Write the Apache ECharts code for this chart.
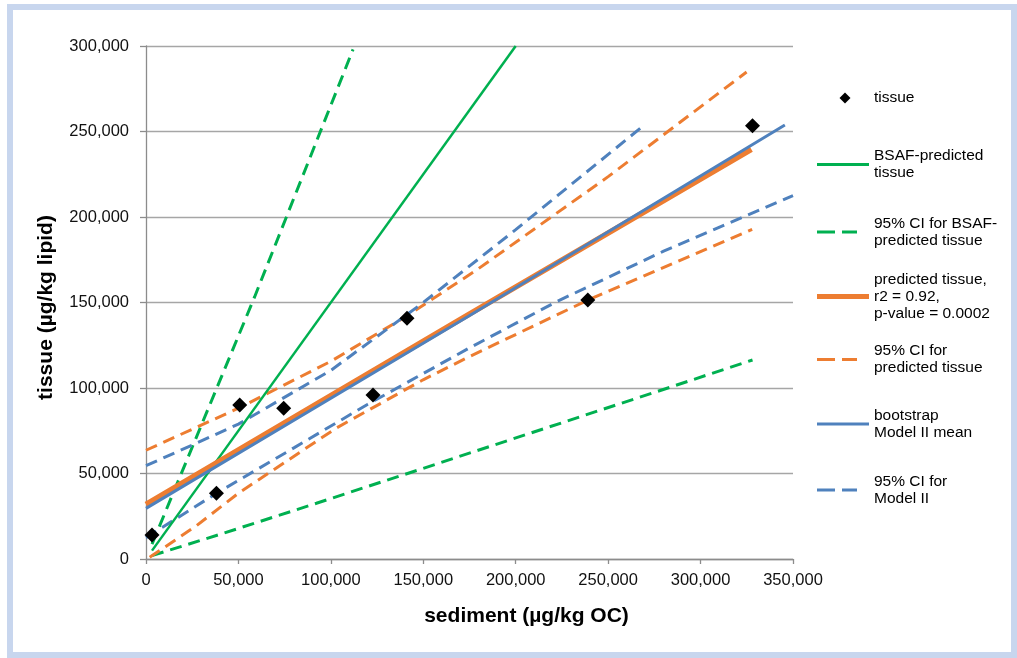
<!DOCTYPE html>
<html>
<head>
<meta charset="utf-8">
<script src="https://cdn.jsdelivr.net/npm/echarts@6/dist/echarts.min.js"></script>
<style>
  html, body { margin: 0; padding: 0; background: #ffffff; }
  #frame { position: absolute; left: 7px; top: 4px; width: 1010px; height: 654px; box-sizing: border-box; border: 6px solid #c8d6ee; pointer-events: none; z-index: 2; }
  #chart { position: absolute; left: 0; top: 0; width: 1017px; height: 658px; }
</style>
</head>
<body>
<div id="chart"></div>
<div id="frame"></div>
<script>
// ---- axis ticks ----
const X_TICKS = [0, 50000, 100000, 150000, 200000, 250000, 300000, 350000];
const Y_TICKS = [0, 50000, 100000, 150000, 200000, 250000, 300000];

// ---- observed points ----
const sediment = [3250, 38100, 50700, 74500, 122800, 141200, 239000, 328100];
const tissue   = [14000, 38400, 90100, 88100, 95900, 140800, 151500, 253400];

// ---- lines (as [sediment, tissue]) ----
const bsafPredicted = [[3250, 4900], [200000, 300000]];
const bsafCIUpper = [[3250, 8700], [58800, 153400], [112000, 298000]];
const bsafCILower = [[3250, 2000], [41700, 15000], [92200, 32600], [149900, 53000], [283400, 100400], [328100, 116400]];
const predicted = [[0, 32000], [174200, 142700], [327500, 239600]];
const predCIUpper = [[0, 63600], [50000, 88200], [100000, 115600], [140900, 142000], [178800, 169000], [250000, 223600], [324900, 284800]];
const predCILower = [[2000, 1000], [27300, 19500], [50000, 38500], [103000, 76600], [149900, 104800], [175200, 118500], [239200, 151500], [327900, 192800]];
const bootMean = [[0, 29600], [174200, 141800], [345600, 253800]];
const bootCIUpper = [[0, 54600], [25400, 66800], [50000, 78900], [100000, 110300], [150000, 150000], [200000, 192600], [268900, 253200]];
const bootCILower = [[0, 12500], [38100, 38400], [80000, 65000], [120000, 90500], [174200, 123000], [222100, 150500], [280000, 180000], [350000, 212500]];

// ---- names / legend texts ----
const NAMES = ['tissue', 'BSAF-predicted tissue', '95% CI for BSAF-predicted tissue',
  'predicted tissue', '95% CI for predicted tissue', 'bootstrap Model II mean', '95% CI for Model II'];
const LEGEND_TEXT = ['tissue', 'BSAF-predicted\ntissue', '95% CI for BSAF-\npredicted tissue',
  'predicted tissue,\nr2 = 0.92,\np-value = 0.0002', '95% CI for\npredicted tissue',
  'bootstrap\nModel II mean', '95% CI for\nModel II'];

const GREEN = '#00b050', ORANGE = '#ed7d31', BLUE = '#4f81bd';
const DASH = [12, 7];

function lineSeries(name, data, color, width, dashed, z) {
  return {
    type: 'line', name: name, data: data, symbol: 'none', showSymbol: false,
    lineStyle: { color: color, width: width, type: dashed ? DASH : 'solid' },
    itemStyle: { color: color, borderWidth: 0 },
    z: z, silent: true, animation: false, clip: true
  };
}

const series = [
  lineSeries(NAMES[2], bsafCIUpper, GREEN, 3, true, 2),
  lineSeries(NAMES[2], bsafCILower, GREEN, 3, true, 2),
  lineSeries(NAMES[1], bsafPredicted, GREEN, 2.5, false, 3),
  lineSeries(NAMES[4], predCIUpper, ORANGE, 3, true, 2),
  lineSeries(NAMES[4], predCILower, ORANGE, 3, true, 2),
  lineSeries(NAMES[6], bootCIUpper, BLUE, 3, true, 2),
  lineSeries(NAMES[6], bootCILower, BLUE, 3, true, 2),
  lineSeries(NAMES[3], predicted, ORANGE, 5.5, false, 3),
  lineSeries(NAMES[5], bootMean, BLUE, 3, false, 4),
  {
    type: 'scatter', name: NAMES[0],
    data: sediment.map((x, i) => [x, tissue[i]]),
    symbol: 'diamond', symbolSize: 15,
    itemStyle: { color: '#000000', opacity: 1 }, z: 10, silent: true, animation: false
  }
];

// legend layout: symbol centre y and icon per entry
const L = 17;
const legendSymY = [98, 164.5, 232, 296.5, 359.5, 424, 490];
const DASH_ICON = 'path://M0,0h18v3h-18zM25,0h15v3h-15z';
const legendIcon = [
  { icon: 'diamond', w: 11, h: 11, left: 839.5, padL: 18.5 },
  { icon: 'rect', w: 52, h: 3, left: 817, padL: 0 },
  { icon: DASH_ICON, w: 40, h: 3, left: 817, padL: 12 },
  { icon: 'rect', w: 52, h: 5, left: 817, padL: 0 },
  { icon: DASH_ICON, w: 40, h: 3, left: 817, padL: 12 },
  { icon: 'rect', w: 52, h: 3, left: 817, padL: 0 },
  { icon: DASH_ICON, w: 40, h: 3, left: 817, padL: 12 }
];

const legends = NAMES.map((name, i) => {
  const n = LEGEND_TEXT[i].split('\n').length;
  const boxH = (2 * n - 1) * L;
  const ic = legendIcon[i];
  return {
    orient: 'vertical', left: ic.left, top: legendSymY[i] - boxH / 2, padding: 0,
    itemWidth: ic.w, itemHeight: ic.h, icon: ic.icon,
    itemStyle: { borderWidth: 0, opacity: 1 },
    data: [name], selectedMode: false,
    formatter: LEGEND_TEXT[i],
    textStyle: {
      fontFamily: 'Liberation Sans, Arial, sans-serif', fontSize: 15.5, color: '#000',
      lineHeight: L, padding: [(n - 1) * L, 0, 0, ic.padL]
    }
  };
});

const axisFont = { fontFamily: 'Liberation Sans, Arial, sans-serif', fontSize: 16.5, color: '#111' };

const option = {
  backgroundColor: '#ffffff',
  animation: false,
  grid: { left: 146, right: 224, top: 46, bottom: 99, containLabel: false },
  legend: legends,
  xAxis: {
    type: 'value',
    min: X_TICKS[0], max: X_TICKS[X_TICKS.length - 1], interval: X_TICKS[1] - X_TICKS[0],
    name: 'sediment (µg/kg OC)', nameLocation: 'middle', nameGap: 47,
    nameTextStyle: { fontFamily: 'Liberation Sans, Arial, sans-serif', fontSize: 21, fontWeight: 'bold', color: '#000', padding: [0, 0, 0, 114] },
    axisLine: { show: true, lineStyle: { color: '#8c8c8c', width: 1.3 } },
    axisTick: { show: true, inside: false, length: 5, lineStyle: { color: '#8c8c8c', width: 1.3 } },
    splitLine: { show: false },
    axisLabel: Object.assign({ margin: 13, formatter: v => v.toLocaleString('en-US') }, axisFont)
  },
  yAxis: {
    type: 'value',
    min: Y_TICKS[0], max: Y_TICKS[Y_TICKS.length - 1], interval: Y_TICKS[1] - Y_TICKS[0],
    name: 'tissue (µg/kg lipid)', nameLocation: 'middle', nameGap: 89,
    nameTextStyle: { fontFamily: 'Liberation Sans, Arial, sans-serif', fontSize: 21, fontWeight: 'bold', color: '#000', padding: [0, 10, 0, 0] },
    axisLine: { show: true, lineStyle: { color: '#8c8c8c', width: 1.3 } },
    axisTick: { show: true, inside: false, length: 6, lineStyle: { color: '#8c8c8c', width: 1.3 } },
    splitLine: { show: true, lineStyle: { color: '#a6a6a6', width: 1.3 } },
    axisLabel: Object.assign({ margin: 17, formatter: v => v.toLocaleString('en-US') }, axisFont)
  },
  series: series
};

const chart = echarts.init(document.getElementById('chart'), null, { renderer: 'canvas' });
chart.setOption(option);
</script>
</body>
</html>
